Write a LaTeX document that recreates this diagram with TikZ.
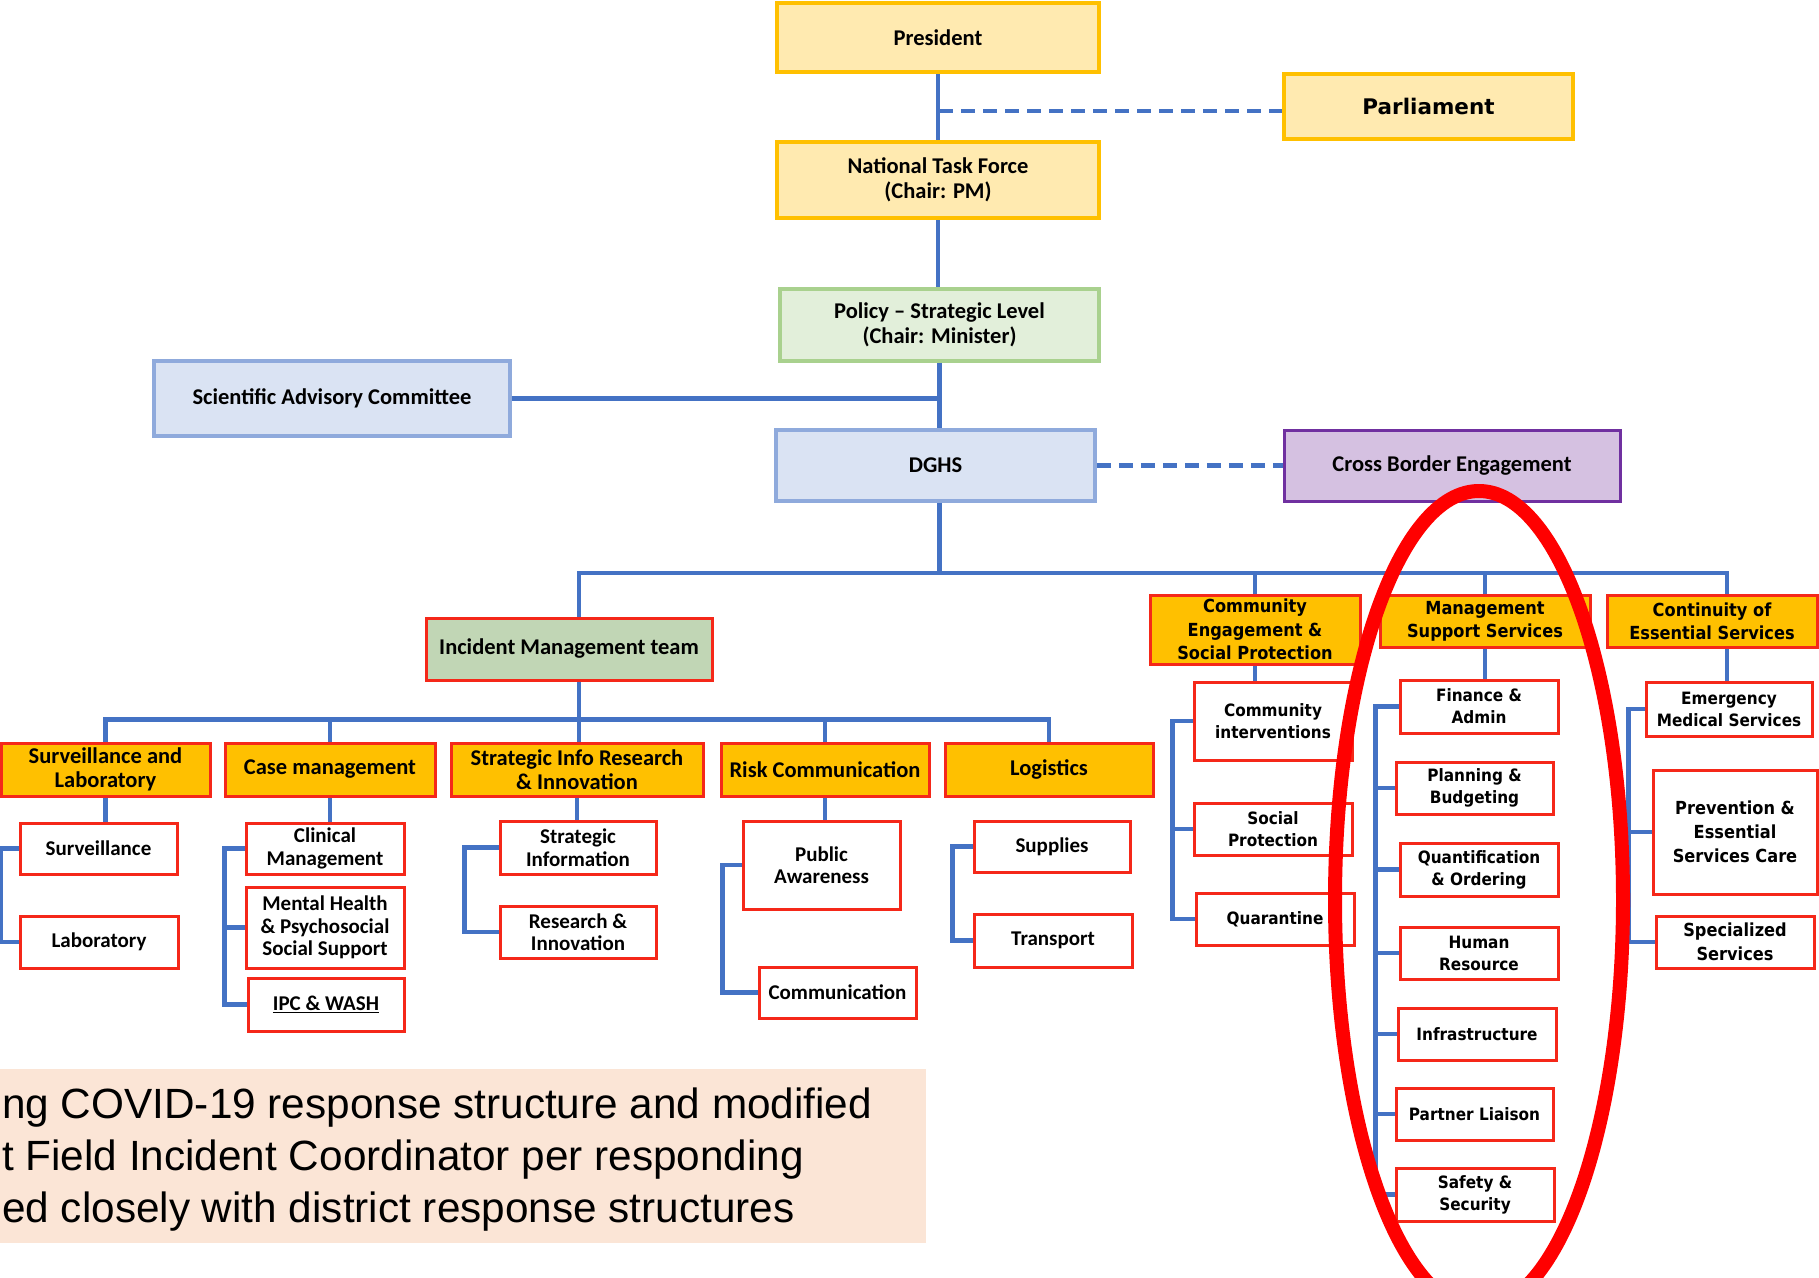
\documentclass[tikz,border=0pt]{standalone}
\usepackage{fontspec}
\usepackage{tikz}
\newfontfamily\calib{Carlito}
\newfontfamily\tah{DejaVu Sans}[FakeStretch=0.9]
\newfontfamily\verd{DejaVu Sans}
\newfontfamily\capfont{Liberation Sans}
\definecolor{lineBlue}{RGB}{68, 114, 196}
\definecolor{goldLine}{RGB}{255, 192, 0}
\definecolor{paleGold}{RGB}{255, 234, 176}
\definecolor{policyFill}{RGB}{226, 239, 218}
\definecolor{policyLine}{RGB}{169, 209, 142}
\definecolor{sacFill}{RGB}{218, 227, 243}
\definecolor{sacLine}{RGB}{143, 170, 220}
\definecolor{cbeFill}{RGB}{213, 193, 225}
\definecolor{cbeLine}{RGB}{112, 48, 160}
\definecolor{hdrFill}{RGB}{255, 192, 0}
\definecolor{hdrLine}{RGB}{245, 40, 25}
\definecolor{imtFill}{RGB}{193, 214, 181}
\definecolor{capFill}{RGB}{251, 229, 214}

\begin{document}
\begin{tikzpicture}[x=1pt, y=-1pt,
    conn/.style={draw=lineBlue, line width=4.5pt},
    dashconn/.style={conn, dash pattern=on 14pt off 8pt},
    box/.style={draw, line width=3pt, inner sep=0pt, align=center, text=black},
    topbox/.style={box, draw=goldLine, fill=paleGold, line width=3.5pt,
      font={\calib\bfseries\fontsize{22.5}{24.5}\selectfont}},
    policybox/.style={topbox, draw=policyLine, fill=policyFill},
    sacbox/.style={topbox, draw=sacLine, fill=sacFill},
    cbebox/.style={topbox, draw=cbeLine, fill=cbeFill, line width=3pt},
    hdrC/.style={box, draw=hdrLine, fill=hdrFill,
      font={\calib\bfseries\fontsize{22.5}{24}\selectfont}},
    imtbox/.style={hdrC, fill=imtFill},
    hdrT/.style={box, draw=hdrLine, fill=hdrFill,
      font={\tah\bfseries\fontsize{18}{23.3}\selectfont}},
    subC/.style={box, draw=hdrLine, fill=white,
      font={\calib\bfseries\fontsize{21}{22.5}\selectfont}},
    subT/.style={box, draw=hdrLine, fill=white,
      font={\tah\bfseries\fontsize{17}{22}\selectfont}},
    bigT/.style={subT, font={\tah\bfseries\fontsize{18}{24}\selectfont}},
    captext/.style={anchor=base west, inner sep=0pt,
      font={\capfont\fontsize{42.3}{50}\selectfont}}]
  \useasboundingbox (0,0) rectangle (1819,1277);
  \clip (0,0) rectangle (1819,1277);

  % national level
  \node[topbox, minimum width=322, minimum height=69] (pres) at (938,37.5) {President};
  \node[topbox, font={\verd\bfseries\fontsize{21.5}{24}\selectfont},
    minimum width=289, minimum height=65] (parl) at (1428.5,106.5) {Parliament};
  \node[topbox, minimum width=322, minimum height=76] (ntf) at (938,180) {National Task Force\\(Chair: PM)};
  \node[policybox, minimum width=319, minimum height=72] (policy) at (939.5,325) {Policy – Strategic Level\\(Chair: Minister)};
  \node[sacbox, minimum width=356, minimum height=75] (sac) at (332,398.5) {Scientific Advisory Committee};
  \node[sacbox, minimum width=319, minimum height=71] (dghs) at (935.5,465.5) {DGHS};
  \node[cbebox, minimum width=336, minimum height=71] (cbe) at (1452,465.5) {Cross Border Engagement};

  % second row
  \node[imtbox, minimum width=286, minimum height=62] (imt) at (569,649) {Incident Management team};
  \node[hdrT, minimum width=210, minimum height=69] (ce) at (1255,629.5) {Community\\Engagement \&\\Social Protection};
  \node[hdrT, minimum width=210, minimum height=52] (mss) at (1485,621) {Management\\Support Services};
  \node[hdrT, minimum width=210, minimum height=52] (ces) at (1712,621) {Continuity of\\Essential Services};

  % incident management pillars
  \node[hdrC, minimum width=209, minimum height=53] (sl) at (105.5,769.5) {Surveillance and\\Laboratory};
  \node[hdrC, minimum width=210, minimum height=53] (cm) at (330,769.5) {Case management};
  \node[hdrC, minimum width=252, minimum height=53] (sir) at (577,769.5) {Strategic Info Research\\\& Innovation};
  \node[hdrC, minimum width=208, minimum height=53] (rc) at (825,769.5) {Risk Communication};
  \node[hdrC, minimum width=208, minimum height=53] (lg) at (1049,769.5) {Logistics};

  \node[subC, minimum width=157, minimum height=51] (surv) at (98.5,848.5) {Surveillance};
  \node[subC, minimum width=158, minimum height=52] (lab) at (99,942) {Laboratory};
  \node[subC, minimum width=158, minimum height=51] (clin) at (325,848.5) {Clinical\\Management};
  \node[subC, minimum width=158, minimum height=81] (mh) at (325,927.5) {Mental Health\\\& Psychosocial\\Social Support};
  \node[subC, minimum width=156, minimum height=53] (ipc) at (326,1004.5) {\underline{IPC \& WASH}};
  \node[subC, minimum width=156, minimum height=53] (si) at (578,847.5) {Strategic\\Information};
  \node[subC, minimum width=156, minimum height=52] (ri) at (578,932) {Research \&\\Innovation};
  \node[subC, minimum width=157, minimum height=88] (pa) at (821.5,865) {Public\\Awareness};
  \node[subC, minimum width=157, minimum height=51] (comm) at (837.5,992.5) {Communication};
  \node[subC, minimum width=156, minimum height=51] (sup) at (1052,846.5) {Supplies};
  \node[subC, minimum width=158, minimum height=53] (trn) at (1053,940.5) {Transport};

  % right hand pillars
  \node[subT, minimum width=158, minimum height=78] (ci) at (1273,721) {Community\\interventions};
  \node[subT, minimum width=158, minimum height=52] (sp) at (1273,829) {Social\\Protection};
  \node[subT, minimum width=158, minimum height=52] (qu) at (1275,919) {Quarantine};
  \node[subT, minimum width=158, minimum height=53] (fa) at (1479,706.5) {Finance \&\\Admin};
  \node[subT, minimum width=157, minimum height=52] (pb) at (1474.5,788) {Planning \&\\Budgeting};
  \node[subT, minimum width=158, minimum height=53] (qo) at (1479,869.5) {Quantification\\\& Ordering};
  \node[subT, minimum width=158, minimum height=52] (hr) at (1479,953) {Human\\Resource};
  \node[subT, minimum width=158, minimum height=52] (inf) at (1477,1034) {Infrastructure};
  \node[subT, minimum width=157, minimum height=52] (pl) at (1474.5,1114) {Partner Liaison};
  \node[subT, minimum width=158, minimum height=53] (ss) at (1475,1194.5) {Safety \&\\Security};
  \node[subT, minimum width=166, minimum height=54] (ems) at (1729,709) {Emergency\\Medical Services};
  \node[bigT, minimum width=164, minimum height=124] (pec) at (1735,832) {Prevention \&\\Essential\\Services Care};
  \node[bigT, minimum width=158, minimum height=52] (spc) at (1735,942) {Specialized\\Services};

  % main chain
  \coordinate (pjoin) at (939,111);
  \draw[conn] (pres.south) -- (pres.south |- ntf.north);
  \draw[conn] (ntf.south) -- (ntf.south |- policy.north);
  \draw[conn] (policy.south) -- (policy.south |- dghs.north);
  \draw[conn] (sac.east) -- (sac.east -| policy.south);
  \draw[dashconn] (pjoin) -- (pjoin -| parl.west);
  \draw[dashconn] (dghs.east) -- (cbe.west);

  % bus below DGHS
  \coordinate (busL) at (579,573);
  \coordinate (busR) at (1727,573);
  \draw[conn] (policy.south |- dghs.south) -- (policy.south |- busL);
  \draw[conn] (busL |- imt.north) -- (busL) -- (busR) -- (busR |- ces.north);
  \draw[conn] (ce.north) -- (ce.north |- busL);
  \draw[conn] (mss.north) -- (mss.north |- busL);

  % bus below incident management team
  \draw[conn] (busL |- imt.south) -- (busL |- sir.north);
  \draw[conn] (sl.north) -- ++(0,-22) -| (lg.north);
  \foreach \h in {cm,rc} \draw[conn] (\h.north) -- ++(0,-22);

  % stems
  \draw[conn] (sl.south) -- (sl.south |- surv.north);
  \draw[conn] (cm.south) -- (cm.south |- clin.north);
  \draw[conn] (sir.south) -- (sir.south |- si.north);
  \draw[conn] (rc.south) -- (rc.south |- pa.north);
  \draw[conn] (ce.south) -- (ce.south |- ci.north);
  \draw[conn] (mss.south) -- (mss.south |- fa.north);
  \draw[conn] (busR |- ces.south) -- (busR |- ems.north);

  % side brackets
  \draw[conn] (surv.west) -- ++(-18,0) |- (lab.west);
  \draw[conn] (clin.west) -- ++(-20,0) |- (ipc.west);
  \draw[conn] (mh.west) -- ++(-20,0);
  \draw[conn] (si.west) -- ++(-34,0) |- (ri.west);
  \draw[conn] (pa.west) -- ++(-19,0) |- (comm.west);
  \draw[conn] (sup.west) -- ++(-20,0) |- (trn.west);
  \draw[conn] (ci.west) -- ++(-20,0) |- (qu.west);
  \draw[conn] (sp.west) -- ++(-20,0);
  \draw[conn] (fa.west) -- ++(-23,0) coordinate (msx) |- (ss.west);
  \foreach \m in {pb,qo,hr,inf,pl} \draw[conn] (\m.west) -- (\m.west -| msx);
  \draw[conn] (ems.west) -- ++(-16,0) coordinate (cesx) |- (spc.west);
  \draw[conn] (pec.west) -- (pec.west -| cesx);

  % highlight round management support
  \draw[red, line width=14pt] (1479,900) ellipse [x radius=144, y radius=409];

  % caption strip
  \fill[capFill] (0,1069) rectangle (926,1243);
  \node[captext] (cap1) at (2,1118) {ng COVID-19 response structure and modified};
  \node[captext] (cap2) at (2,1170) {t Field Incident Coordinator per responding};
  \node[captext] (cap3) at (2,1222) {ed closely with district response structures};
\end{tikzpicture}
\end{document}
